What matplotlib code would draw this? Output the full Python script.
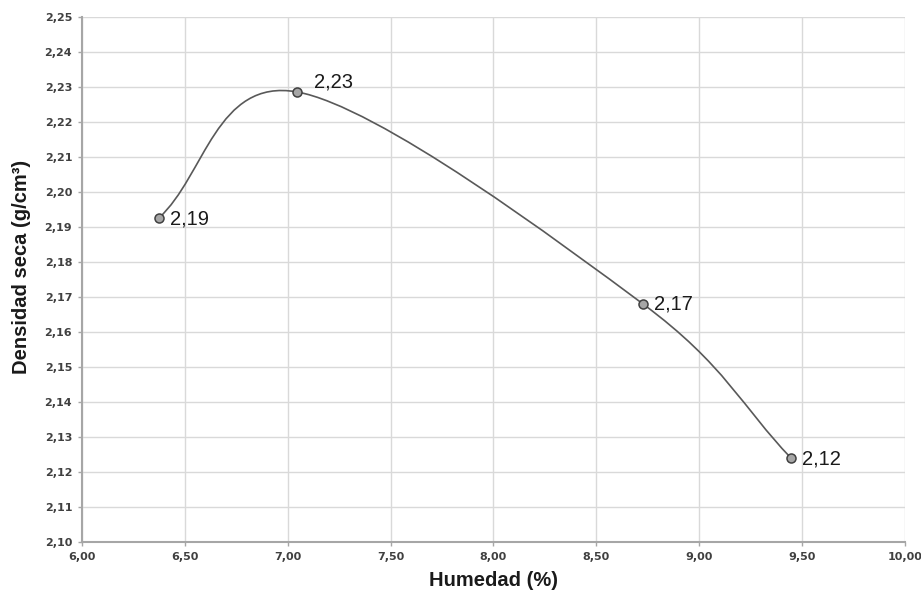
import numpy as np
import matplotlib.pyplot as plt
from matplotlib.path import Path
from matplotlib.patches import PathPatch
from matplotlib.ticker import MultipleLocator, FuncFormatter

# datos del ensayo
humedad = [6.374, 7.045, 8.727, 9.446]
densidad = [2.1926, 2.2286, 2.1680, 2.1240]
etiquetas = ['2,19', '2,23', '2,17', '2,12']
# desplazamiento de cada etiqueta (puntos)
desp = [(8, -1), (12, 7), (8, 0), (8, -1)]

plt.rcParams['font.family'] = ['Liberation Sans', 'DejaVu Sans']

fig = plt.figure(figsize=(9.21, 5.91), dpi=100)
ax = fig.add_axes([0.089, 0.0829, 0.8936, 0.8883])

## curva suavizada tipo Excel (Catmull-Rom -> Bezier, extremos reflejados)
pts = np.column_stack([humedad, densidad])
ext = np.vstack([2 * pts[0] - pts[1], pts, 2 * pts[-1] - pts[-2]])
verts = [tuple(pts[0])]
codes = [Path.MOVETO]
for i in range(1, len(ext) - 2):
    p0, p1, p2, p3 = ext[i - 1], ext[i], ext[i + 1], ext[i + 2]
    c1 = p1 + (p2 - p0) / 6
    c2 = p2 - (p3 - p1) / 6
    verts += [tuple(c1), tuple(c2), tuple(p2)]
    codes += [Path.CURVE4] * 3
ax.add_patch(PathPatch(Path(verts, codes), facecolor='none', edgecolor='#595959', lw=1.2, zorder=3))

ax.plot(humedad, densidad, 'o', ms=6.5, mfc='#a6a6a6', mec='#404040', mew=1.1, zorder=4)
for x, y, t, d in zip(humedad, densidad, etiquetas, desp):
    ax.annotate(t, (x, y), xytext=d, textcoords='offset points', fontsize=14.5,
                va='center', ha='left', color='#1a1a1a')

## ejes
ax.set_xlim(6, 10)
ax.set_ylim(2.10, 2.25)
ax.xaxis.set_major_locator(MultipleLocator(0.5))
ax.yaxis.set_major_locator(MultipleLocator(0.01))
coma = FuncFormatter(lambda v, p: f'{v:.2f}'.replace('.', ','))
ax.xaxis.set_major_formatter(coma)
ax.yaxis.set_major_formatter(coma)
ax.tick_params(axis='both', labelsize=8, labelcolor='#404040', color='#a6a6a6', length=3, width=1, pad=4)
for lab in ax.get_xticklabels() + ax.get_yticklabels():
    lab.set_fontfamily('DejaVu Sans')
    lab.set_fontweight('bold')

ax.grid(True, color='#d9d9d9', lw=1)
ax.set_axisbelow(True)
for s in ['top', 'right']:
    ax.spines[s].set_visible(False)
for s in ['left', 'bottom']:
    ax.spines[s].set_color('#a6a6a6')
    ax.spines[s].set_linewidth(1.5)

ax.set_xlabel('Humedad (%)', fontsize=14.5, fontweight='bold', color='#1a1a1a')
ax.set_ylabel('Densidad seca (g/cm³)', fontsize=14.5, fontweight='bold', color='#1a1a1a')
ax.xaxis.set_label_coords(0.5, -0.056)
ax.yaxis.set_label_coords(-0.062, 0.524)

plt.savefig('out.png', dpi=100)
